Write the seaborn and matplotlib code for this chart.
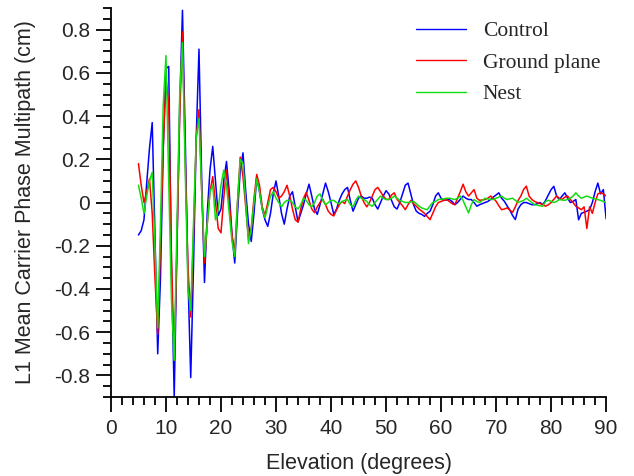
import numpy as np
import pandas as pd
import matplotlib
matplotlib.use('Agg')
import matplotlib.pyplot as plt
from matplotlib.ticker import MultipleLocator
import seaborn as sns

# ============================================================
# DATA (0.5 degree steps from 5 to 90)
# ============================================================
elevation = np.arange(5.0, 90.5, 0.5)

control = [
    -0.15, -0.13, -0.08, 0.09, 0.25, 0.37, -0.15, -0.70, -0.35, 0.25,
    0.62, 0.63, -0.30, -0.90, -0.20, 0.45, 0.89, 0.30, -0.35, -0.81,
    -0.30, 0.30, 0.71, 0.10, -0.37, -0.05, 0.15, 0.26, 0.10, -0.06,
    -0.03, 0.10, 0.19, 0.05, -0.15, -0.28, -0.05, 0.15, 0.23, 0.05,
    -0.10, -0.18, -0.05, 0.12, 0.05, -0.03, -0.08, -0.11, -0.05, 0.04,
    0.10, 0.03, -0.05, -0.10, -0.03, 0.03, 0.05, -0.02, -0.09, -0.05,
    -0.01, 0.04, 0.085, 0.03, -0.03, -0.055, -0.01, 0.04, 0.09, 0.05,
    0.00, -0.055, -0.03, 0.01, 0.04, 0.06, 0.07, 0.01, -0.04, -0.01,
    0.02, 0.03, 0.02, 0.02, 0.025, 0.02, -0.01, -0.03, 0.00, 0.03,
    0.055, 0.04, 0.01, -0.02, -0.03, 0.00, 0.04, 0.08, 0.09, 0.04,
    -0.01, -0.04, -0.05, -0.055, -0.064, -0.05, -0.04, -0.01, 0.03, 0.045,
    0.02, 0.01, 0.012, 0.014, 0.005, -0.01, 0.00, 0.015, 0.03, 0.02,
    0.014, 0.014, 0.00, -0.017, -0.01, -0.005, 0.00, 0.005, 0.014, 0.025,
    0.035, 0.045, 0.02, 0.006, -0.015, -0.035, -0.06, -0.079, -0.03, -0.01,
    0.00, 0.00, -0.005, -0.01, -0.01, -0.005, 0.00, -0.01, 0.01, 0.035,
    0.06, 0.075, 0.03, 0.014, 0.03, 0.045, 0.02, 0.00, 0.005, 0.014,
    -0.08, -0.05, -0.045, -0.04, -0.033, 0.00, 0.05, 0.09, 0.04, 0.06,
    -0.075,
]

ground_plane = [
    0.18, 0.08, 0.00, 0.05, 0.11, -0.05, -0.35, -0.61, -0.20, 0.25,
    0.58, 0.45, -0.25, -0.73, -0.20, 0.40, 0.79, 0.20, -0.30, -0.53,
    -0.15, 0.30, 0.43, 0.05, -0.28, -0.10, 0.05, 0.12, 0.00, -0.12,
    -0.14, 0.02, 0.15, 0.00, -0.15, -0.23, 0.00, 0.21, 0.12, -0.02,
    -0.17, -0.12, 0.02, 0.13, 0.08, -0.02, -0.06, 0.00, 0.06, 0.07,
    0.05, 0.02, 0.03, 0.05, 0.08, 0.03, -0.03, -0.08, -0.09, -0.03,
    0.02, 0.047, 0.01, -0.03, -0.047, -0.02, 0.00, 0.015, -0.01, -0.04,
    -0.055, -0.062, -0.035, -0.01, 0.005, -0.005, 0.03, 0.06, 0.085, 0.10,
    0.07, 0.03, 0.00, -0.02, 0.00, 0.03, 0.06, 0.07, 0.05, 0.03,
    0.015, 0.014, 0.035, 0.045, 0.015, 0.00, -0.015, -0.033, -0.01, 0.01,
    -0.005, -0.017, -0.03, -0.04, -0.05, -0.065, -0.079, -0.05, -0.02, 0.00,
    0.005, 0.01, 0.014, 0.005, -0.005, -0.01, 0.02, 0.05, 0.085, 0.05,
    0.03, 0.045, 0.06, 0.02, 0.01, 0.012, 0.014, 0.02, 0.03, 0.02,
    0.006, -0.015, -0.033, -0.03, -0.025, -0.035, -0.045, -0.02, 0.01, 0.03,
    0.06, 0.076, 0.03, 0.014, 0.005, 0.00, -0.005, -0.01, -0.017, -0.01,
    0.00, 0.015, 0.03, 0.02, 0.014, 0.025, 0.03, 0.014, 0.00, -0.017,
    -0.025, -0.033, -0.02, -0.12, -0.02, -0.05, 0.00, 0.04, 0.045, 0.04,
    0.03,
]

nest = [
    0.08, 0.02, -0.05, 0.03, 0.10, 0.14, -0.20, -0.58, -0.10, 0.45,
    0.68, 0.10, -0.45, -0.73, -0.10, 0.50, 0.74, 0.15, -0.40, -0.50,
    -0.10, 0.30, 0.39, 0.05, -0.25, -0.10, 0.05, 0.08, -0.08, -0.03,
    0.08, 0.15, 0.08, -0.05, -0.18, -0.25, 0.00, 0.20, 0.18, 0.00,
    -0.19, -0.12, 0.00, 0.11, 0.05, -0.03, -0.07, -0.02, 0.03, 0.05,
    0.02, 0.00, -0.02, 0.00, 0.01, 0.01, 0.00, -0.02, -0.03, -0.01,
    0.02, 0.01, -0.01, -0.02, 0.00, 0.03, 0.04, 0.01, -0.01, 0.00,
    0.01, 0.01, 0.00, -0.005, 0.005, 0.01, 0.014, -0.01, -0.02, 0.01,
    0.03, 0.02, 0.014, 0.005, -0.01, -0.017, 0.00, 0.015, 0.03, 0.02,
    0.014, 0.014, 0.02, 0.03, 0.02, 0.01, 0.005, 0.00, 0.00, 0.003,
    0.005, -0.005, -0.017, -0.025, -0.03, -0.033, -0.015, 0.00, 0.005, 0.014,
    0.015, 0.017, 0.02, 0.02, 0.017, 0.014, 0.02, 0.03, 0.01, -0.02,
    -0.048, -0.01, 0.014, 0.005, 0.00, 0.01, 0.02, 0.017, 0.014, 0.014,
    0.02, 0.025, 0.03, 0.02, 0.014, 0.017, 0.02, 0.01, 0.00, 0.005,
    0.01, 0.02, 0.01, 0.00, -0.01, -0.012, -0.015, -0.017, 0.005, 0.01,
    0.006, 0.00, 0.005, 0.014, 0.012, 0.01, 0.015, 0.02, 0.03, 0.045,
    0.03, 0.02, 0.025, 0.03, 0.025, 0.02, 0.017, 0.014, 0.01, 0.005,
    0.00,
]

series_names = ['Control', 'Ground plane', 'Nest']
series_colors = ['#0000ff', '#ff0000', '#11dd11']
ytick_values = [-0.8, -0.6, -0.4, -0.2, 0, 0.2, 0.4, 0.6, 0.8]
ytick_labels = ['-0.8', '-0.6', '-0.4', '-0.2', '0', '0.2', '0.4', '0.6', '0.8']

assert len(control) == len(elevation), len(control)
assert len(ground_plane) == len(elevation), len(ground_plane)
assert len(nest) == len(elevation), len(nest)

df = pd.DataFrame({
    'Elevation': elevation,
    'Control': control,
    'Ground plane': ground_plane,
    'Nest': nest,
}).melt(id_vars='Elevation', var_name='Series', value_name='Multipath')

# ============================================================
# PLOT
# ============================================================
sns.set_theme(style='ticks')
plt.rcParams['font.family'] = ['Liberation Sans', 'DejaVu Sans']
plt.rcParams['axes.unicode_minus'] = False

fig = plt.figure(figsize=(6.34, 4.76), dpi=100)
ax = fig.add_axes([0.175, 0.166, 0.781, 0.817])

sns.lineplot(data=df, x='Elevation', y='Multipath', hue='Series',
             hue_order=series_names, palette=series_colors,
             estimator=None, sort=False, linewidth=1.1, legend=False, ax=ax)

ax.set_xlim(0, 90)
ax.set_ylim(-0.9, 0.9)
ax.xaxis.set_major_locator(MultipleLocator(10))
ax.xaxis.set_minor_locator(MultipleLocator(2))
ax.set_yticks(ytick_values)
ax.set_yticklabels(ytick_labels)
ax.yaxis.set_minor_locator(MultipleLocator(0.05))

ax.tick_params(which='major', length=11, width=1.3, labelsize=15, pad=5, color='black')
ax.tick_params(which='minor', length=6, width=1.3, color='black')
ax.tick_params(axis='y', which='major', pad=4)

for side in ['top', 'right']:
    ax.spines[side].set_visible(False)
for side in ['left', 'bottom']:
    ax.spines[side].set_linewidth(1.3)
    ax.spines[side].set_color('black')

ax.set_xlabel('Elevation (degrees)', fontsize=15.5, labelpad=11)
ax.set_ylabel('L1 Mean Carrier Phase Multipath (cm)', fontsize=15.5, labelpad=13)

handles = [plt.Line2D([], [], color=c, lw=1.0) for c in series_colors]
fig.legend(handles, series_names, loc='upper left',
           bbox_to_anchor=(416 / 634, 1 - 21 / 476),
           frameon=False, borderpad=0, borderaxespad=0,
           handlelength=2.3, handletextpad=0.8, labelspacing=0.54,
           prop={'family': 'Liberation Serif', 'size': 15.5})

fig.savefig('out.png', dpi=100)
